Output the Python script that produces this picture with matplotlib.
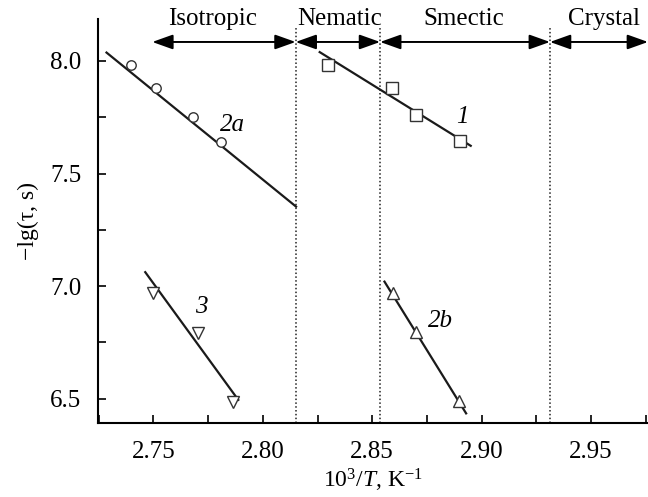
import matplotlib
matplotlib.use("Agg")
import matplotlib.pyplot as plt
from matplotlib.ticker import MultipleLocator

plt.rcParams['font.family'] = ['Liberation Serif', 'DejaVu Serif']
plt.rcParams['mathtext.fontset'] = 'custom'
plt.rcParams['mathtext.rm'] = 'Liberation Serif'
plt.rcParams['mathtext.it'] = 'Liberation Serif:italic'

# data
x1 = [2.830, 2.859, 2.870, 2.890]      # squares, curve 1
y1 = [7.98, 7.88, 7.76, 7.645]
fit1_x = [2.826, 2.895]
fit1_y = [8.039, 7.623]

x2a = [2.740, 2.751, 2.768, 2.781]     # circles, curve 2a
y2a = [7.98, 7.88, 7.75, 7.64]
fit2a_x = [2.7286, 2.8152]
fit2a_y = [8.037, 7.353]

x2b = [2.8597, 2.870, 2.8897]          # up triangles, curve 2b
y2b = [6.971, 6.795, 6.492]
fit2b_x = [2.8556, 2.8929]
fit2b_y = [7.020, 6.435]

x3 = [2.750, 2.7706, 2.7863]           # down triangles, curve 3
y3 = [6.971, 6.791, 6.487]
fit3_x = [2.7463, 2.7888]
fit3_y = [7.062, 6.495]

# phase boundaries and names
bounds = [2.7495, 2.815, 2.8536, 2.9312, 2.976]
phases = ['Isotropic', 'Nematic', 'Smectic', 'Crystal']
phase_x = [2.777, 2.8349, 2.8919, 2.956]

fig = plt.figure(figsize=(6.48, 4.97), dpi=100)
ax = fig.add_axes([0.1512, 0.149, 0.8488, 0.813])

lc = '#1a1a1a'
mec = '#333333'
ax.plot(fit1_x, fit1_y, color=lc, lw=1.6, zorder=2)
ax.plot(fit2a_x, fit2a_y, color=lc, lw=1.6, zorder=2)
ax.plot(fit2b_x, fit2b_y, color=lc, lw=1.6, zorder=2)
ax.plot(fit3_x, fit3_y, color=lc, lw=1.6, zorder=2)

ax.plot(x1, y1, 's', ms=8, mfc='white', mec=mec, mew=1.0, zorder=3)
ax.plot(x2a, y2a, 'o', ms=6.8, mfc='white', mec=mec, mew=1.0, zorder=3)
ax.plot(x2b, y2b, '^', ms=9, mfc='white', mec=mec, mew=1.0, zorder=3)
ax.plot(x3, y3, 'v', ms=9, mfc='white', mec=mec, mew=1.0, zorder=3)

# curve labels
ax.text(2.7863, 7.716, '2a', style='italic', fontsize=18, ha='center', va='center')
ax.text(2.8914, 7.753, '1', style='italic', fontsize=18, ha='center', va='center')
ax.text(2.7718, 6.909, '3', style='italic', fontsize=18, ha='center', va='center')
ax.text(2.8810, 6.847, '2b', style='italic', fontsize=18, ha='center', va='center')

# phase boundaries (dotted)
for b in bounds[1:4]:
    ax.plot([b, b], [6.3925, 8.15], color='#222222', lw=1.1, ls=(0, (1, 1.5)),
            clip_on=False, zorder=1)

# phase arrows + names
for i in range(4):
    ax.annotate('', xy=(bounds[i + 1], 8.084), xytext=(bounds[i], 8.084),
                arrowprops=dict(arrowstyle='<|-|>,head_length=0.7,head_width=0.25',
                                color='black', lw=1.4, shrinkA=0, shrinkB=0,
                                mutation_scale=18),
                annotation_clip=False)
    ax.text(phase_x[i], 8.184, phases[i], fontsize=18, ha='center', va='center',
            clip_on=False)

ax.set_xlim(2.7247, 2.976)
ax.set_ylim(6.3925, 8.1865)
ax.xaxis.set_minor_locator(MultipleLocator(0.025))
ax.yaxis.set_minor_locator(MultipleLocator(0.25))
ax.set_xticks([2.75, 2.80, 2.85, 2.90, 2.95])
ax.set_xticklabels(['2.75', '2.80', '2.85', '2.90', '2.95'])
ax.set_yticks([6.5, 7.0, 7.5, 8.0])
ax.set_yticklabels(['6.5', '7.0', '7.5', '8.0'])
ax.tick_params(which='both', direction='in', length=6, width=1.2, labelsize=18)
ax.tick_params(axis='x', pad=13)
ax.tick_params(axis='y', pad=12)

for s in ['top', 'right']:
    ax.spines[s].set_visible(False)
for s in ['left', 'bottom']:
    ax.spines[s].set_linewidth(1.5)

ax.set_xlabel(r'$10^3/T$, K$^{-1}$', fontsize=17, labelpad=3)
ax.set_ylabel('−lg(τ, s)', fontsize=17, labelpad=8)

fig.savefig('out.png', dpi=100)
